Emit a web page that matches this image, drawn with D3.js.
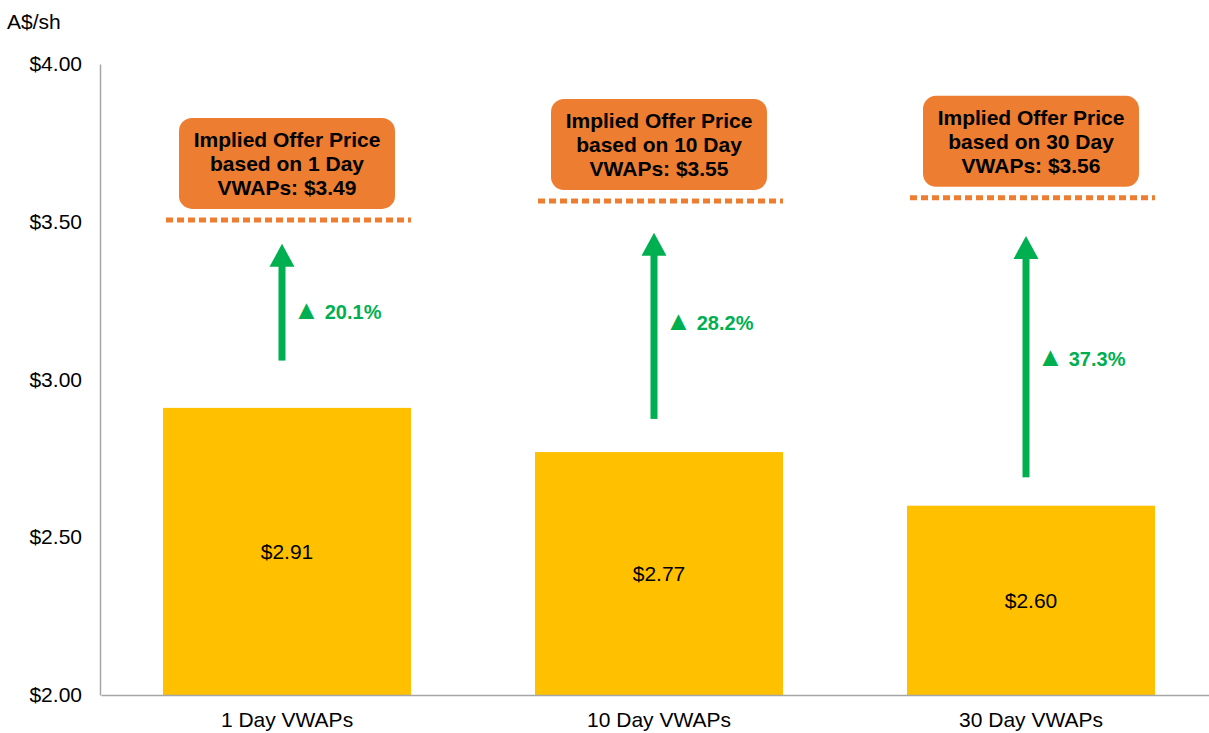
<!DOCTYPE html>
<html>
<head>
<meta charset="utf-8">
<script src="https://cdn.jsdelivr.net/npm/d3@7"></script>
<style>
  body { margin: 0; background: #fff; }
  text { font-family: Arial, "Liberation Sans", sans-serif; }
</style>
</head>
<body>
<svg id="chart" width="1209" height="733"></svg>
<script>
const categories = ["1 Day VWAPs", "10 Day VWAPs", "30 Day VWAPs"];
const vwapValues = [2.91, 2.77, 2.60];
const offerPrices = [3.49, 3.55, 3.56];
const premiumLabels = ["20.1%", "28.2%", "37.3%"];
const boxDays = ["1 Day", "10 Day", "30 Day"];
// arrow start / tip and label height, in A$/sh
const arrowFrom = [3.06, 2.875, 2.69];
const arrowTo = [3.43, 3.465, 3.455];
const labelAt = [3.215, 3.18, 3.065];
const yTicks = [2.0, 2.5, 3.0, 3.5, 4.0];

const svg = d3.select("#chart");
const green = "#00B050";
const orange = "#ED7D31";
const gold = "#FFC000";
const axisGrey = "#A6A6A6";
const fontFam = "Arial, 'Liberation Sans', sans-serif";

const x = d3.scaleBand()
    .domain(categories)
    .range([101, 1217])
    .paddingInner(1 / 3)
    .paddingOuter(1 / 6);

const y = d3.scaleLinear()
    .domain([2, 4])
    .range([695, 64]);

const data = categories.map((c, i) => ({
    cat: c,
    value: vwapValues[i],
    offer: offerPrices[i],
    pct: premiumLabels[i],
    days: boxDays[i],
    from: arrowFrom[i],
    to: arrowTo[i],
    labelY: labelAt[i]
}));

// bars
svg.selectAll(".bar")
    .data(data)
    .enter().append("rect")
    .attr("class", "bar")
    .attr("x", d => x(d.cat))
    .attr("y", d => y(d.value))
    .attr("width", x.bandwidth())
    .attr("height", d => y(2) - y(d.value))
    .attr("fill", gold);

svg.selectAll(".bar-label")
    .data(data)
    .enter().append("text")
    .attr("class", "bar-label")
    .attr("x", d => x(d.cat) + x.bandwidth() / 2)
    .attr("y", d => (y(d.value) + y(2)) / 2)
    .attr("dy", "0.35em")
    .attr("text-anchor", "middle")
    .attr("font-size", 21)
    .attr("fill", "#000")
    .text(d => d3.format("$.2f")(d.value));

// axes
const yAxis = svg.append("g")
    .attr("transform", "translate(100,0)")
    .call(d3.axisLeft(y).tickValues(yTicks).tickSize(0).tickPadding(18).tickFormat(d3.format("$.2f")));
yAxis.selectAll("text").attr("font-size", 21).attr("fill", "#000").style("font-family", fontFam);
yAxis.select(".domain").attr("stroke", axisGrey).attr("stroke-width", 1.5);

const xAxis = svg.append("g")
    .attr("transform", "translate(0,695)")
    .call(d3.axisBottom(x).tickSize(0).tickPadding(17));
xAxis.selectAll("text").attr("font-size", 21).attr("fill", "#000").style("font-family", fontFam);
xAxis.select(".domain").attr("stroke", axisGrey).attr("stroke-width", 1.5);

svg.append("text")
    .attr("x", 7)
    .attr("y", 29)
    .attr("font-size", 21)
    .attr("fill", "#000")
    .text("A$/sh");

// implied offer price dashed lines
svg.selectAll(".offer-line")
    .data(data)
    .enter().append("line")
    .attr("class", "offer-line")
    .attr("x1", d => x(d.cat) + 3)
    .attr("x2", d => x(d.cat) + x.bandwidth())
    .attr("y1", d => y(d.offer) - 5)
    .attr("y2", d => y(d.offer) - 5)
    .attr("stroke", orange)
    .attr("stroke-width", 5)
    .attr("stroke-dasharray", "7,4");

// callout boxes
const boxW = 216, boxH = 91;
const boxes = svg.selectAll(".callout")
    .data(data)
    .enter().append("g")
    .attr("class", "callout")
    .attr("transform", d => `translate(${x(d.cat) + x.bandwidth() / 2},${y(d.offer) - 16 - boxH})`);

boxes.append("rect")
    .attr("x", -boxW / 2)
    .attr("y", 0)
    .attr("width", boxW)
    .attr("height", boxH)
    .attr("rx", 13)
    .attr("fill", orange);

boxes.each(function(d) {
    const lines = ["Implied Offer Price", `based on ${d.days}`, `VWAPs: ${d3.format("$.2f")(d.offer)}`];
    d3.select(this).selectAll("text")
        .data(lines)
        .enter().append("text")
        .attr("x", 0)
        .attr("y", (l, i) => 22 + i * 24)
        .attr("dy", "0.35em")
        .attr("text-anchor", "middle")
        .attr("font-size", 21)
        .attr("font-weight", "bold")
        .attr("fill", "#000")
        .text(l => l);
});

// arrows
const arrows = svg.selectAll(".arrow")
    .data(data)
    .enter().append("g")
    .attr("class", "arrow")
    .attr("transform", d => `translate(${x(d.cat) + x.bandwidth() / 2 - 5},0)`);

arrows.append("rect")
    .attr("x", -3.5)
    .attr("width", 7)
    .attr("y", d => y(d.to) + 20)
    .attr("height", d => y(d.from) - y(d.to) - 20)
    .attr("fill", green);

arrows.append("path")
    .attr("d", d => `M0,${y(d.to)} L12.5,${y(d.to) + 23} L-12.5,${y(d.to) + 23} Z`)
    .attr("fill", green);

const pctText = arrows.append("text")
    .attr("x", 11)
    .attr("y", d => y(d.labelY))
    .attr("dy", "0.35em")
    .attr("font-size", 20)
    .attr("font-weight", "bold")
    .attr("fill", green);
pctText.append("tspan")
    .attr("font-size", 27)
    .text("▲");
pctText.append("tspan")
    .attr("dx", 5)
    .text(d => d.pct);
</script>
</body>
</html>
